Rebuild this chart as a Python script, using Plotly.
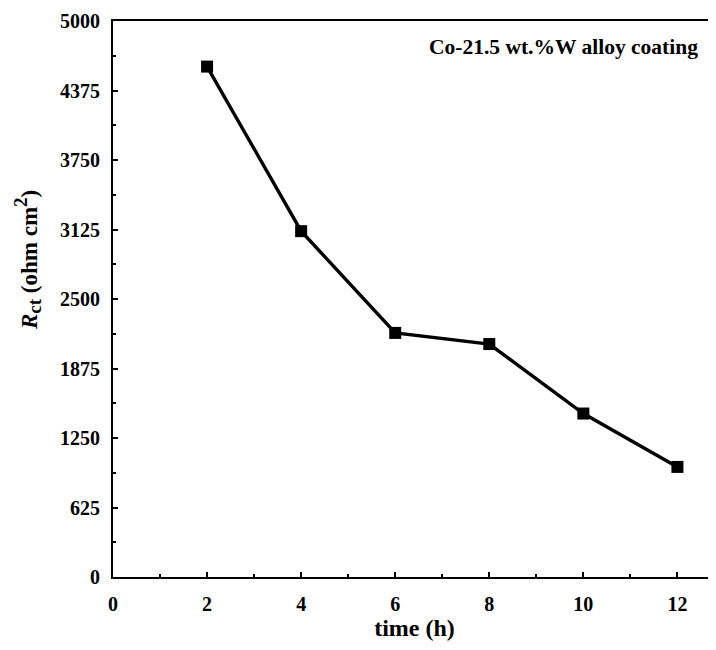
import plotly.graph_objects as go

time_h = [2, 4, 6, 8, 10, 12]
rct = [4590, 3110, 2195, 2095, 1470, 990]
y_ticks = [0, 625, 1250, 1875, 2500, 3125, 3750, 4375, 5000]
x_ticks = [0, 2, 4, 6, 8, 10, 12]

FONT = "Liberation Serif, Times New Roman, serif"

fig = go.Figure()
fig.add_trace(go.Scatter(
    x=time_h, y=rct, mode="lines+markers",
    line=dict(color="black", width=3.4),
    marker=dict(symbol="square", size=12, color="black"),
    showlegend=False,
))

# page body has an 8px margin; compensate so plot area sits at x 113..716, y 21..577
OFF = 8
W, H = 716 - OFF, 650 - OFF
L, R, T, B = 113 - OFF, 0, 21 - OFF, 73
PX0, PX1, PY0, PY1 = 113, 716, 21, 577

fig.update_layout(
    width=W, height=H,
    margin=dict(l=L, r=R, t=T, b=B, autoexpand=False),
    paper_bgcolor="white", plot_bgcolor="white",
    font=dict(family=FONT, size=20, color="black", weight="bold"),
    xaxis=dict(
        range=[0, 12.82], tickvals=x_ticks, ticktext=[str(v) for v in x_ticks],
        showgrid=False, zeroline=False,
        showline=True, linecolor="black", linewidth=2, mirror=True,
        ticks="inside", ticklen=5, tickwidth=1.5, tickcolor="black",
        minor=dict(dtick=1, ticks="inside", ticklen=3, tickwidth=1.5, tickcolor="black"),
        tickfont=dict(family=FONT, size=20, weight="bold"),
        ticklabelstandoff=8,
        title=dict(text="time (h)", font=dict(family=FONT, size=24, weight="bold"), standoff=4),
    ),
    yaxis=dict(
        range=[0, 5000], tickvals=y_ticks, ticktext=[str(v) for v in y_ticks],
        showgrid=False, zeroline=False,
        showline=True, linecolor="black", linewidth=2, mirror=False,
        ticks="inside", ticklen=5, tickwidth=1.5, tickcolor="black",
        minor=dict(dtick=312.5, ticks="inside", ticklen=3, tickwidth=1.5, tickcolor="black"),
        tickfont=dict(family=FONT, size=20, weight="bold"),
        ticklabelstandoff=7,
    ),
    annotations=[
        dict(text="Co-21.5 wt.%W alloy coating", xref="paper", yref="paper",
             x=(700 - PX0) / (PX1 - PX0), y=(PY1 - 47) / (PY1 - PY0),
             xanchor="right", yanchor="middle", showarrow=False,
             font=dict(family=FONT, size=21.5, weight="bold")),
        dict(text="<i>R</i><sub><span style='font-size:19px'>ct</span></sub> (ohm cm<sup><span style='font-size:19px'>2</span></sup>)",
             xref="paper", yref="paper",
             x=(27 - PX0) / (PX1 - PX0), y=(PY1 - 260) / (PY1 - PY0),
             xanchor="center", yanchor="middle", textangle=-90, showarrow=False,
             font=dict(family=FONT, size=23, weight="bold")),
    ],
)

fig.write_html("out.html")
